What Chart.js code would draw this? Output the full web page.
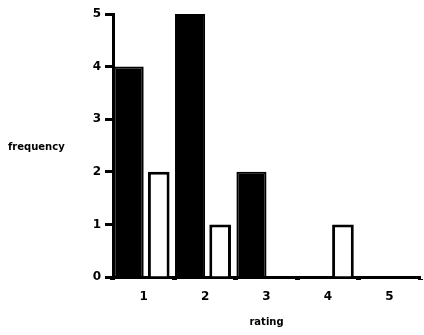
<!DOCTYPE html>
<html lang="en">
<head>
  <meta charset="UTF-8" />
  <title>rating frequency</title>
  <script src="https://cdn.jsdelivr.net/npm/chart.js"></script>
  <style>
    html, body { margin: 0; padding: 0; background: #fff; }
    #wrap { position: relative; width: 424px; height: 335px; }
  </style>
</head>
<body>
  <div id="wrap"><canvas id="ratingChart" width="424" height="335"></canvas></div>

  <script>
    const ratings = ['1', '2', '3', '4', '5'];
    const groupA = [4, 5, 2, 0, 0];   // filled bars
    const groupB = [2, 1, 0, 1, 0];   // open bars
    const freqTicks = [0, 1, 2, 3, 4, 5];

    const ink = '#000';
    const font = { family: 'DejaVu Sans', size: 12, weight: 'bold' };

    // horizontal y title, drawn left of the axis
    const sideTitle = {
      id: 'sideTitle',
      afterDraw(chart) {
        const ctx = chart.ctx;
        ctx.save();
        ctx.fillStyle = ink;
        ctx.font = 'bold 10px DejaVu Sans';
        ctx.textBaseline = 'middle';
        ctx.fillText('frequency', 8, 147);
        ctx.restore();
      }
    };

    new Chart(document.getElementById('ratingChart'), {
      type: 'bar',
      data: {
        labels: ratings,
        datasets: [
          {
            data: groupA,
            backgroundColor: ink,
            borderColor: ink,
            borderWidth: 2,
            categoryPercentage: 0.98,
            barPercentage: 1.0
          },
          {
            data: groupB,
            backgroundColor: '#fff',
            borderColor: ink,
            borderWidth: 3,
            categoryPercentage: 0.98,
            barPercentage: 0.72
          }
        ]
      },
      options: {
        responsive: false,
        animation: false,
        layout: { padding: { top: 14, right: 4, left: 0, bottom: 7 } },
        plugins: { legend: { display: false }, tooltip: { enabled: false } },
        scales: {
          x: {
            offset: true,
            afterFit: (s) => { s.height = 51; },
            border: { color: ink, width: 3 },
            grid: {
              offset: true,
              drawOnChartArea: false,
              color: ink,
              tickLength: 3,
              tickWidth: 5
            },
            ticks: { color: ink, font: font, padding: 10 },
            title: {
              display: true,
              text: 'rating',
              color: ink,
              font: { family: 'DejaVu Sans', size: 10, weight: 'bold' },
              padding: { top: 4, bottom: 0 }
            }
          },
          y: {
            min: 0,
            max: 5,
            afterFit: (s) => { s.width = 113; },
            afterBuildTicks: (s) => { s.ticks = freqTicks.map(v => ({ value: v })); },
            border: { color: ink, width: 3 },
            grid: {
              drawOnChartArea: false,
              color: ink,
              tickLength: 8,
              tickWidth: 3
            },
            ticks: { color: ink, font: font, padding: 4 }
          }
        }
      },
      plugins: [sideTitle]
    });
  </script>
</body>
</html>
